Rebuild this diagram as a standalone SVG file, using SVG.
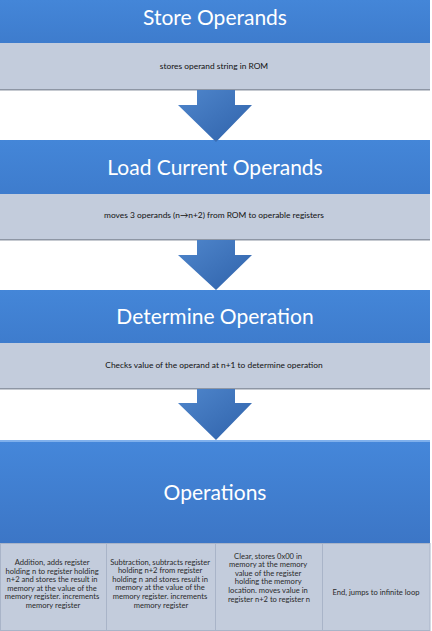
<svg xmlns="http://www.w3.org/2000/svg" width="432" height="631" viewBox="0 0 432 631">
  <defs>
    <linearGradient id="gHead" x1="0" y1="0" x2="0" y2="1">
      <stop offset="0" stop-color="#4486D8"/>
      <stop offset="1" stop-color="#3E7CCD"/>
    </linearGradient>
    <linearGradient id="gOps" x1="0" y1="0" x2="0" y2="1">
      <stop offset="0" stop-color="#4587DA"/>
      <stop offset="1" stop-color="#3C76C6"/>
    </linearGradient>
    <linearGradient id="gArrow" x1="0" y1="0" x2="1" y2="1">
      <stop offset="0" stop-color="#4F86CC"/>
      <stop offset="1" stop-color="#2F62AA"/>
    </linearGradient>
    <style>
      .head { fill: url(#gHead); }
      .band { fill: #C3CCDC; }
      .shadow { fill: #8E96A4; }
      .cell { fill: #C3CCDC; stroke: #A9B4C8; stroke-width: 1; }
      .arrow { fill: url(#gArrow); }
      .title { font-family: Lato, "Open Sans", "Liberation Sans", sans-serif; font-size: 21px; fill: #FFFFFF; text-anchor: middle; }
      .sub { font-family: Lato, "Liberation Sans", sans-serif; font-size: 8.4px; fill: #111111; text-anchor: middle; }
      .cellText { font-family: Lato, "Liberation Sans", sans-serif; font-size: 7.6px; fill: #2A2A2A; text-anchor: middle; }
    </style>
  </defs>

  <rect x="0" y="0" width="432" height="631" fill="#FFFFFF"/>

  <!-- step 1 -->
  <g id="store-operands">
    <rect class="head" x="0" y="0" width="430" height="43"/>
    <rect class="band" x="0" y="43" width="430" height="47"/>
    <rect class="shadow" x="0" y="89" width="430" height="1.5"/>
    <text class="title" x="215" y="25">Store Operands</text>
    <text class="sub" x="214" y="69">stores operand string in ROM</text>
  </g>

  <!-- step 2 -->
  <g id="load-current-operands">
    <rect class="head" x="0" y="140" width="430" height="54"/>
    <rect class="band" x="0" y="194" width="430" height="46"/>
    <rect class="shadow" x="0" y="239" width="430" height="1.5"/>
    <text class="title" x="215" y="175">Load Current Operands</text>
    <text class="sub" x="214" y="218">moves 3 operands (n→n+2) from ROM to operable registers</text>
  </g>

  <!-- step 3 -->
  <g id="determine-operation">
    <rect class="head" x="0" y="290" width="430" height="53"/>
    <rect class="band" x="0" y="343" width="430" height="46"/>
    <rect class="shadow" x="0" y="388" width="430" height="1.5"/>
    <text class="title" x="215" y="324">Determine Operation</text>
    <text class="sub" x="214" y="368">Checks value of  the operand at n+1 to determine operation</text>
  </g>

  <!-- step 4 with its four cases -->
  <g id="operations">
    <rect x="0" y="440" width="430" height="103" fill="url(#gOps)"/>
    <rect x="0" y="440" width="430" height="2" fill="#7FB0EC"/>
    <text class="title" x="215" y="500">Operations</text>
  </g>

  <g id="op-addition">
    <rect class="cell" x="0.5" y="543.5" width="106" height="87"/>
    <text class="cellText">
      <tspan x="53" y="565">Addition, adds register</tspan>
      <tspan x="53" y="573.6">holding n to register holding</tspan>
      <tspan x="53" y="582.2">n+2 and stores the result in</tspan>
      <tspan x="53" y="590.8">memory at the value of the</tspan>
      <tspan x="53" y="599.4">memory register. increments</tspan>
      <tspan x="53" y="608">memory register</tspan>
    </text>
  </g>

  <g id="op-subtraction">
    <rect class="cell" x="106.5" y="543.5" width="109" height="87"/>
    <text class="cellText">
      <tspan x="161" y="564.5">Subtraction, subtracts register</tspan>
      <tspan x="161" y="573.1">holding n+2 from register</tspan>
      <tspan x="161" y="581.7">holding n and stores result in</tspan>
      <tspan x="161" y="590.3">memory at the value of the</tspan>
      <tspan x="161" y="598.9">memory register. increments</tspan>
      <tspan x="161" y="607.5">memory register</tspan>
    </text>
  </g>

  <g id="op-clear">
    <rect class="cell" x="215.5" y="543.5" width="107" height="87"/>
    <text class="cellText">
      <tspan x="269" y="558.5">Clear, stores 0x00 in</tspan>
      <tspan x="269" y="567.1">memory at the memory</tspan>
      <tspan x="269" y="575.7">value of the register</tspan>
      <tspan x="269" y="584.3">holding the memory</tspan>
      <tspan x="269" y="592.9">location. moves value in</tspan>
      <tspan x="269" y="601.5">register n+2 to register n</tspan>
    </text>
  </g>

  <g id="op-end">
    <rect class="cell" x="322.5" y="543.5" width="107.5" height="87"/>
    <text class="cellText" x="376" y="594.5">End, jumps to infinite loop</text>
  </g>

  <!-- block arrows between steps -->
  <g id="connectors">
    <path class="arrow" d="M197,90 H235 V105 H252 L216,142 L178,105 H197 Z"/>
    <path class="arrow" d="M197,240 H235 V255 H252 L216,290 L178,255 H197 Z"/>
    <path class="arrow" d="M197,389 H235 V403 H252 L216,440 L178,403 H197 Z"/>
  </g>
</svg>
